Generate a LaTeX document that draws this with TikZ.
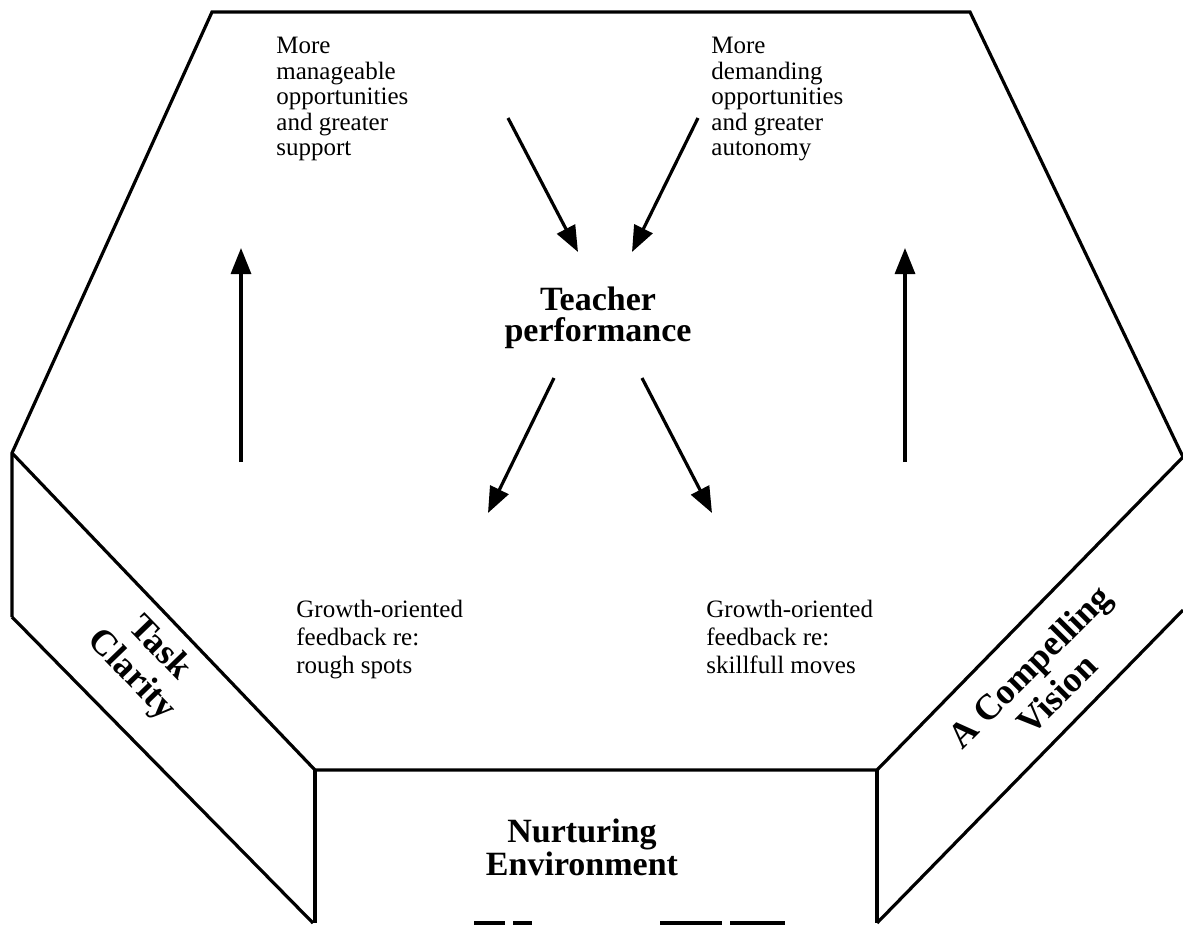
\documentclass[tikz,border=0pt]{standalone}
\usepackage{fontspec}
\setmainfont{Liberation Serif}
\usetikzlibrary{arrows.meta}
\begin{document}
\begin{tikzpicture}[x=0.5pt,y=-0.5pt,line join=miter,
  frame/.style={line width=1.6pt},
  arr/.style={line width=1.6pt,-{Triangle[width=10pt,length=13pt]}},
  body/.style={align=left,anchor=north west,inner sep=0pt,font=\fontsize{12.5}{12.75}\selectfont},
  bodyb/.style={align=left,anchor=north west,inner sep=0pt,font=\fontsize{12.5}{14}\selectfont},
  title/.style={align=center,inner sep=0pt,font=\fontsize{17}{15.5}\selectfont\bfseries},
  side/.style={align=center,inner sep=0pt,font=\fontsize{18}{19.5}\selectfont\bfseries}]
\useasboundingbox (0,0) rectangle (1183,926);
% frame
\draw[frame] (12,617) -- (12,453) -- (212,12) -- (970,12) -- (1183,457);
\draw[frame] (12,453) -- (315,770) -- (877,770) -- (1183,457);
\draw[frame] (12,617) -- (313,923);
\draw[frame] (315,770) -- (315,923);
\draw[frame] (877,770) -- (877,923);
\draw[frame] (877,923) -- (1183,610);
\draw[frame] (474,923) -- (505,923);
\draw[frame] (513,923) -- (532,923);
\draw[frame] (660,923) -- (722,923);
\draw[frame] (730,923) -- (785,923);
% texts
\node[body] (tl) at (276,37) {More\\manageable\\opportunities\\and greater\\support};
\node[body] (tr) at (711,37) {More\\demanding\\opportunities\\and greater\\autonomy};
\node[bodyb] (bl) at (296,600) {Growth-oriented\\feedback re:\\rough spots};
\node[bodyb] (br) at (706,600) {Growth-oriented\\feedback re:\\skillfull moves};
\node[title,anchor=north] (tp) at (598,287) {Teacher\\performance};
\node[title,anchor=north] (ne) at (582,818) {Nurturing\\Environment};
\node[side,rotate=-46] (tc) at (145,662) {Task\\Clarity};
\node[side,rotate=45] (cv) at (1043,680) {A Compelling\\Vision};
% arrow end points
\coordinate (a1s) at (508,118); \coordinate (a1e) at (578,252);
\coordinate (a2s) at (698,118); \coordinate (a2e) at (632,252);
\coordinate (a3s) at (554,378); \coordinate (a3e) at (488,513);
\coordinate (a4s) at (642,378); \coordinate (a4e) at (712,513);
\coordinate (a5s) at (241,462); \coordinate (a5e) at (241,248);
\coordinate (a6s) at (905,462); \coordinate (a6e) at (905,248);
\draw[arr] (a1s) -- (a1e);
\draw[arr] (a2s) -- (a2e);
\draw[arr] (a3s) -- (a3e);
\draw[arr] (a4s) -- (a4e);
\draw[arr] (a5s) -- (a5e);
\draw[arr] (a6s) -- (a6e);
\end{tikzpicture}
\end{document}
